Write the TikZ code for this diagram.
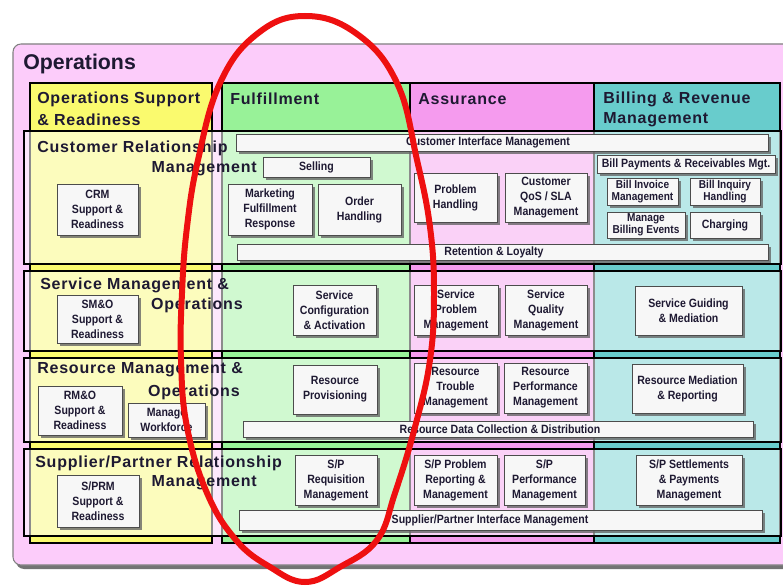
\documentclass[tikz,border=0pt]{standalone}
\usepackage{fontspec}
\setmainfont{Liberation Sans}
\newfontfamily\boxfont[FakeStretch=0.88]{Liberation Sans}
\newfontfamily\headfont[LetterSpace=5]{Liberation Sans}
\usetikzlibrary{shadows}
\definecolor{outerpink}{RGB}{252,204,250}
\definecolor{osryellow}{RGB}{250,250,110}
\definecolor{fulgreen}{RGB}{152,242,152}
\definecolor{asspink}{RGB}{245,155,238}
\definecolor{billteal}{RGB}{104,204,204}
\definecolor{inktext}{RGB}{30,25,50}
\definecolor{ellred}{RGB}{238,16,16}
\tikzset{
  col/.style={draw=black, line width=1.2pt},
  rowband/.style={draw=black, line width=1.6pt, fill=white, fill opacity=0.55},
  funcbox/.style={draw=black!70, line width=0.6pt, fill=white!97!black, inner sep=0pt,
    align=center, text=inktext,
    font=\boxfont\bfseries\fontsize{9}{11.2}\selectfont,
    drop shadow={shadow xshift=2pt, shadow yshift=-2pt, fill=black!60, opacity=0.8}},
  smallbox/.style={funcbox, font=\boxfont\bfseries\fontsize{8.6}{9.2}\selectfont},
  bartext/.style={inner sep=0pt, text=inktext, font=\boxfont\bfseries\fontsize{9}{11}\selectfont},
  headtxt/.style={font=\headfont\bfseries\fontsize{12}{14}\selectfont, text=inktext, inner sep=0pt, anchor=west},
}
% box from corner (x1,y1) to (x2,y2) in pixel units
\newcommand{\fbx}[7]{%
  \pgfmathsetmacro\bxcx{(#3+#5)/2}%
  \pgfmathsetmacro\bxcy{(#4+#6)/2}%
  \pgfmathsetmacro\bxw{(#5-#3)*0.75}%
  \pgfmathsetmacro\bxh{(#6-#4)*0.75}%
  \node[#1, minimum width=\bxw pt, minimum height=\bxh pt] (#2) at (\bxcx,\bxcy) {#7};}
\begin{document}
\begin{tikzpicture}[x=0.75pt, y=-0.75pt]
\useasboundingbox (0,0) rectangle (783,588);
\clip (0,0) rectangle (783,588);
\fill[white] (0,0) rectangle (783,588);
% outer panel
\fill[black!55, rounded corners=6pt] (16,48) rectangle (813,569);
\draw[draw=black!50, line width=0.8pt, fill=outerpink, rounded corners=6pt] (13,44) rectangle (810,565);
\node[font=\bfseries\fontsize{16}{18}\selectfont, text=inktext, anchor=west, inner sep=0pt] (title) at (23,64) {Operations};
% columns
\draw[col, fill=osryellow] (30,83) rectangle (212,543);
\draw[col, fill=fulgreen] (222,83) rectangle (410,543);
\draw[col, fill=asspink] (410,83) rectangle (594,543);
\draw[col, fill=billteal] (594,83) rectangle (780,543);
% rows
\draw[rowband] (24,131) rectangle (781,264);
\draw[rowband] (24,271) rectangle (781,351);
\draw[rowband] (24,358) rectangle (781,442);
\draw[rowband] (24,449) rectangle (781,536);
% column headings
\node[headtxt] (h1a) at (37,99) {Operations Support};
\node[headtxt] (h1b) at (37,120) {\& Readiness};
\node[headtxt] (h2) at (230,99) {Fulfillment};
\node[headtxt] (h3) at (418,99) {Assurance};
\node[headtxt] (h4a) at (603,99) {Billing \& Revenue};
\node[headtxt] (h4b) at (603,120) {Management};
% row headings
\node[headtxt] (r1a) at (37,148) {Customer Relationship};
\node[headtxt, anchor=east] (r1b) at (257,169) {Management};
\node[headtxt] (r2a) at (40,285) {Service Management \&};
\node[headtxt, anchor=east] (r2b) at (243,305) {Operations};
\node[headtxt] (r3a) at (37,370) {Resource Management \&};
\node[headtxt, anchor=east] (r3b) at (240,392) {Operations};
\node[headtxt] (r4a) at (35,463) {Supplier/Partner Relationship};
\node[headtxt, anchor=east] (r4b) at (257,483) {Management};
% CRM row
\fbx{funcbox}{crmsr}{57}{184}{138}{235}{CRM\\Support \&\\Readiness}
\fbx{funcbox}{cim}{236}{134}{768}{151}{}
\node[bartext] (cimt) at (488,142.5) {Customer Interface Management};
\fbx{funcbox}{sell}{263}{157}{370}{177}{Selling}
\fbx{funcbox}{mfr}{228}{184}{312}{235}{Marketing\\Fulfillment\\Response}
\fbx{funcbox}{oh}{318}{184}{401}{235}{Order\\Handling}
\fbx{funcbox}{rl}{237}{244}{768}{260}{}
\node[bartext] (rlt) at (494,252) {Retention \& Loyalty};
\fbx{funcbox}{ph}{414}{173}{497}{222}{Problem\\Handling}
\fbx{funcbox}{cqos}{505}{173}{587}{222}{Customer\\QoS / SLA\\Management}
\fbx{funcbox}{bprm}{597}{155}{775}{173}{Bill Payments \& Receivables Mgt.}
\fbx{smallbox}{bim}{607}{178}{678}{205}{Bill Invoice\\Management}
\fbx{smallbox}{bih}{690}{178}{760}{205}{Bill Inquiry\\Handling}
\fbx{smallbox}{mbe}{607}{212}{685}{238}{Manage\\Billing Events}
\fbx{funcbox}{chg}{690}{212}{760}{238}{Charging}
% SM&O row
\fbx{funcbox}{smosr}{57}{295}{138}{343}{SM\&O\\Support \&\\Readiness}
\fbx{funcbox}{sca}{293}{285}{376}{335}{Service\\Configuration\\\& Activation}
\fbx{funcbox}{spm}{414}{285}{498}{335}{Service\\Problem\\Management}
\fbx{funcbox}{sqm}{505}{285}{587}{335}{Service\\Quality\\Management}
\fbx{funcbox}{sgm}{635}{286}{742}{335}{Service Guiding\\\& Mediation}
% RM&O row
\fbx{funcbox}{rmosr}{38}{386}{122}{435}{RM\&O\\Support \&\\Readiness}
\fbx{funcbox}{mw}{128}{403}{205}{437}{Manage\\Workforce}
\fbx{funcbox}{rp}{293}{365}{377}{414}{Resource\\Provisioning}
\fbx{funcbox}{rtm}{414}{363}{497}{413}{Resource\\Trouble\\Management}
\fbx{funcbox}{rpm}{504}{363}{587}{413}{Resource\\Performance\\Management}
\fbx{funcbox}{rmr}{632}{364}{743}{413}{Resource Mediation\\\& Reporting}
\fbx{funcbox}{rdcd}{243}{421}{753}{437}{}
\node[bartext] (rdcdt) at (500,429) {Resource Data Collection \& Distribution};
% S/PRM row
\fbx{funcbox}{sprmsr}{57}{475}{139}{527}{S/PRM\\Support \&\\Readiness}
\fbx{funcbox}{sprq}{295}{455}{377}{505}{S/P\\Requisition\\Management}
\fbx{funcbox}{sppr}{414}{455}{497}{505}{S/P Problem\\Reporting \&\\Management}
\fbx{funcbox}{spperf}{504}{455}{585}{505}{S/P\\Performance\\Management}
\fbx{funcbox}{spsp}{636}{455}{742}{505}{S/P Settlements\\\& Payments\\Management}
\fbx{funcbox}{spim}{239}{510}{762}{530}{}
\node[bartext] (spimt) at (490,520) {Supplier/Partner Interface Management};
% red ellipse
\draw[ellred, line width=4.5pt] plot[smooth cycle, tension=0.7] coordinates {
 (305,16) (357,34) (397,83) (417,160) (430,227) (434,293) (430,360) (415,427)
 (395,493) (377,540) (340,567) (305,582) (270,567) (236,540) (207,493)
 (187,427) (181,360) (182,293) (187,227) (198,160) (220,83) (257,34)};
\end{tikzpicture}
\end{document}
